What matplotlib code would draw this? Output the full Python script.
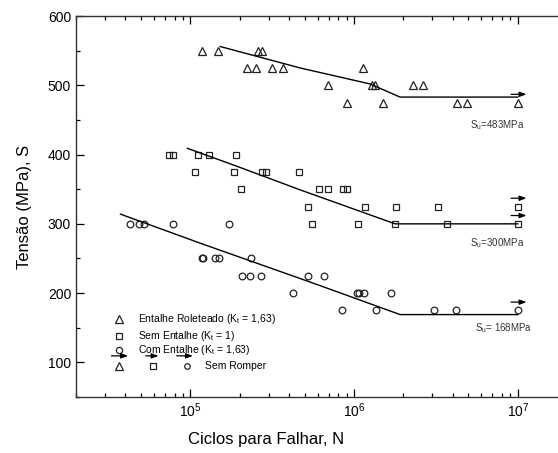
import numpy as np
import matplotlib
matplotlib.use("Agg")
import matplotlib.pyplot as plt
from matplotlib.ticker import MultipleLocator, LogLocator, NullFormatter

plt.rcParams['font.family'] = ['Liberation Sans', 'DejaVu Sans']
plt.rcParams['mathtext.fontset'] = 'custom'
plt.rcParams['mathtext.rm'] = 'Liberation Sans'
plt.rcParams['mathtext.it'] = 'Liberation Sans'

# Entalhe Roleteado (triangulos)
tri_n = [1.18e5, 1.48e5, 2.57e5, 2.75e5,
         2.23e5, 2.53e5, 3.16e5, 3.69e5, 1.14e6,
         6.93e5, 1.29e6, 1.34e6, 2.29e6, 2.64e6,
         9.06e5, 1.50e6, 4.25e6, 4.89e6, 1.0e7]
tri_s = [550, 550, 550, 550,
         525, 525, 525, 525, 525,
         500, 500, 500, 500, 500,
         475, 475, 475, 475, 475]
tri_fit_n = [1.52e5, 4.69e5, 1.25e6, 1.91e6, 1.0e7]
tri_fit_s = [556, 525, 502, 483, 483]
tri_runout = [(1.0e7, 475)]

# Sem Entalhe (quadrados)
sq_n = [7.45e4, 7.88e4, 1.12e5, 1.29e5, 1.91e5,
        1.06e5, 1.85e5, 2.75e5, 2.91e5, 4.62e5,
        2.05e5, 6.12e5, 6.94e5, 8.57e5, 9.06e5,
        5.25e5, 1.17e6, 1.80e6, 3.25e6, 1.0e7,
        5.55e5, 1.06e6, 1.78e6, 3.69e6, 1.0e7]
sq_s = [400, 400, 400, 400, 400,
        375, 375, 375, 375, 375,
        350, 350, 350, 350, 350,
        325, 325, 325, 325, 325,
        300, 300, 300, 300, 300]
sq_fit_n = [9.59e4, 1.83e5, 4.69e5, 1.78e6, 1.0e7]
sq_fit_s = [409, 385, 349, 300, 300]
sq_runout = [(1.0e7, 325), (1.0e7, 300)]

# Com Entalhe (circulos)
ci_n = [4.25e4, 4.82e4, 5.17e4, 7.88e4, 1.71e5,
        1.17e5, 1.19e5, 1.42e5, 1.50e5, 2.36e5,
        2.08e5, 2.32e5, 2.71e5, 5.25e5, 6.57e5,
        4.25e5, 1.04e6, 1.07e6, 1.15e6, 1.68e6,
        8.45e5, 1.36e6, 3.08e6, 4.19e6, 1.0e7]
ci_s = [300, 300, 300, 300, 300,
        250, 250, 250, 250, 250,
        225, 225, 225, 225, 225,
        200, 200, 200, 200, 200,
        175, 175, 175, 175, 175]
ci_fit_n = [3.74e4, 1.15e5, 4.69e5, 7.45e5, 1.91e6, 1.0e7]
ci_fit_s = [314, 272, 221, 204, 169, 169]
ci_runout = [(1.0e7, 175)]

su_labels = [(5.1e6, 442, r"S$_u$=483MPa"),
             (5.1e6, 272, r"S$_u$=300MPa"),
             (5.45e6, 149, r"S$_u$= 168MPa")]

legend_rows = ["Entalhe Roleteado (K$_t$ = 1,63)",
               "Sem Entalhe (K$_t$ = 1)",
               "Com Entalhe (K$_t$ = 1,63)"]

fig = plt.figure(figsize=(5.58, 4.53), dpi=100)
ax = fig.add_axes([0.1362, 0.1236, 0.880, 0.841])

mk = dict(linestyle='none', markerfacecolor='none', markeredgecolor='#222222',
          markeredgewidth=0.9)
ax.plot(tri_n, tri_s, marker='^', markersize=6, **mk)
ax.plot(sq_n, sq_s, marker='s', markersize=4.5, **mk)
ax.plot(ci_n, ci_s, marker='o', markersize=4.8, **mk)

for fn, fs in [(tri_fit_n, tri_fit_s), (sq_fit_n, sq_fit_s), (ci_fit_n, ci_fit_s)]:
    ax.plot(fn, fs, color='black', lw=1.0)

arrow = dict(arrowstyle='-|>,head_length=0.4,head_width=0.15', color='black',
             lw=0.9, shrinkA=0, shrinkB=0)
for n, s in tri_runout + sq_runout + ci_runout:
    ax.annotate('', xy=(n * 1.13, s + 12), xytext=(n * 0.91, s + 12),
                arrowprops=arrow)

for n, s, t in su_labels:
    ax.text(n, s, t, fontsize=7, color='#333333', va='center')

# legenda
lk = dict(transform=ax.transAxes, clip_on=False, **mk)
row_y = [0.205, 0.160, 0.123]
ax.plot([0.0876], [row_y[0]], marker='^', markersize=6, **lk)
ax.plot([0.0876], [row_y[1]], marker='s', markersize=4.5, **lk)
ax.plot([0.0876], [row_y[2]], marker='o', markersize=4.5, **lk)
for y, t in zip(row_y, legend_rows):
    ax.text(0.126, y, t, transform=ax.transAxes, fontsize=7.5, va='center')
ax.plot([0.0876], [0.081], marker='^', markersize=6, **lk)
ax.plot([0.157], [0.081], marker='s', markersize=4.5, **lk)
ax.plot([0.226], [0.081], marker='o', markersize=4, **lk)
for x0, x1 in [(0.072, 0.106), (0.142, 0.168), (0.205, 0.238)]:
    ax.annotate('', xy=(x1, 0.108), xytext=(x0, 0.108), xycoords='axes fraction',
                arrowprops=arrow)
ax.text(0.263, 0.081, "Sem Romper", transform=ax.transAxes, fontsize=7.5,
        va='center')

ax.set_xscale('log')
ax.set_xlim(2e4, 2e7)
ax.set_ylim(50, 600)
ax.yaxis.set_major_locator(MultipleLocator(100))
ax.yaxis.set_minor_locator(MultipleLocator(50))
ax.xaxis.set_major_locator(LogLocator(base=10))
ax.xaxis.set_minor_locator(LogLocator(base=10, subs=np.arange(2, 10)))
ax.xaxis.set_minor_formatter(NullFormatter())
ax.tick_params(which='both', direction='in', top=True, right=True,
               labelsize=10, width=0.9)
ax.tick_params(which='major', length=6)
ax.tick_params(which='minor', length=3)
for sp in ax.spines.values():
    sp.set_linewidth(1.0)
    sp.set_color('#333333')

ax.set_ylabel("Tensão (MPa), S", fontsize=12)
ax.set_xlabel("Ciclos para Falhar, N", fontsize=12)
ax.xaxis.set_label_coords(0.387, -0.092)
ax.yaxis.set_label_coords(-0.09, 0.5)

fig.savefig("out.png", dpi=100)
